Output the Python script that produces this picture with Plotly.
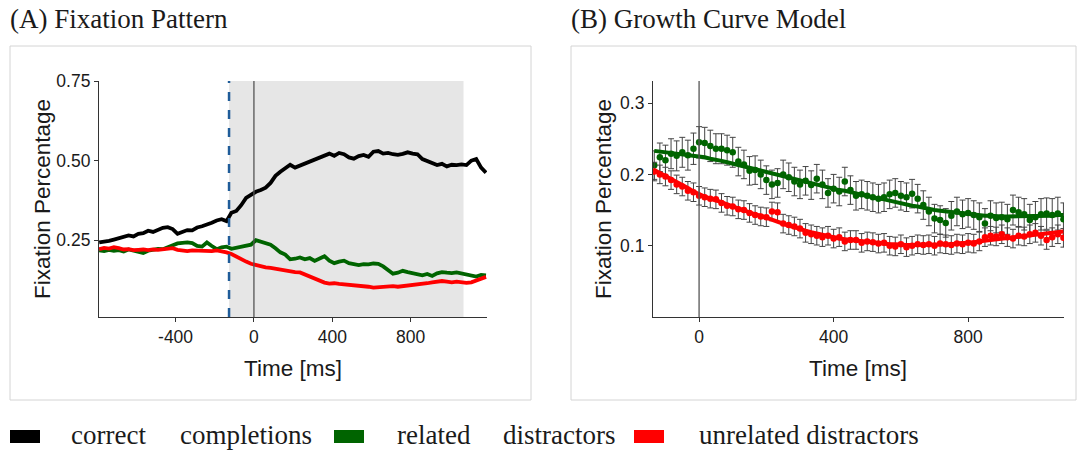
import numpy as np
import plotly.graph_objects as go

W, H = 1081, 450

# ---------------- Panel A data ----------------
time_a = np.arange(-790, 1190, 25)
correct_a = [0.243, 0.245, 0.248, 0.252, 0.256, 0.262, 0.265, 0.262, 0.270, 0.272,
             0.280, 0.276, 0.284, 0.289, 0.291, 0.285, 0.270, 0.276, 0.282, 0.281,
             0.290, 0.294, 0.298, 0.305, 0.312, 0.316, 0.310, 0.336, 0.342, 0.360,
             0.383, 0.394, 0.402, 0.408, 0.415, 0.430, 0.452, 0.465, 0.475, 0.487,
             0.478, 0.484, 0.492, 0.496, 0.503, 0.508, 0.516, 0.522, 0.515, 0.524,
             0.520, 0.510, 0.506, 0.514, 0.518, 0.512, 0.528, 0.530, 0.522, 0.524,
             0.520, 0.518, 0.521, 0.526, 0.522, 0.520, 0.505, 0.498, 0.490, 0.486,
             0.490, 0.482, 0.487, 0.486, 0.488, 0.486, 0.500, 0.505, 0.478, 0.462]
related_a = [0.218, 0.216, 0.220, 0.217, 0.219, 0.215, 0.221, 0.218, 0.212, 0.210,
             0.217, 0.221, 0.223, 0.222, 0.228, 0.234, 0.240, 0.242, 0.243, 0.241,
             0.232, 0.230, 0.243, 0.232, 0.222, 0.228, 0.230, 0.223, 0.226, 0.230,
             0.232, 0.236, 0.250, 0.246, 0.240, 0.236, 0.225, 0.212, 0.205, 0.190,
             0.192, 0.196, 0.190, 0.194, 0.185, 0.194, 0.200, 0.186, 0.178, 0.183,
             0.186, 0.178, 0.174, 0.172, 0.175, 0.174, 0.177, 0.176, 0.168, 0.155,
             0.145, 0.148, 0.154, 0.150, 0.147, 0.142, 0.140, 0.144, 0.138, 0.146,
             0.150, 0.148, 0.147, 0.149, 0.146, 0.144, 0.140, 0.136, 0.141, 0.140]
unrelated_a = [0.222, 0.226, 0.224, 0.228, 0.225, 0.221, 0.222, 0.219, 0.220, 0.221,
               0.219, 0.221, 0.220, 0.222, 0.224, 0.225, 0.220, 0.217, 0.216, 0.218,
               0.217, 0.215, 0.217, 0.216, 0.218, 0.216, 0.212, 0.207, 0.198, 0.190,
               0.183, 0.176, 0.172, 0.168, 0.165, 0.163, 0.160, 0.158, 0.156, 0.153,
               0.150, 0.149, 0.142, 0.136, 0.130, 0.124, 0.117, 0.114, 0.115, 0.113,
               0.112, 0.109, 0.108, 0.106, 0.106, 0.104, 0.101, 0.102, 0.104, 0.103,
               0.106, 0.104, 0.106, 0.107, 0.108, 0.109, 0.112, 0.115, 0.118, 0.121,
               0.122, 0.120, 0.118, 0.120, 0.117, 0.116, 0.118, 0.123, 0.128, 0.135]
window_start, window_end = -127, 1070
xticks_a = [-400, 0, 400, 800]
xticklabels_a = ["-400", "0", "400", "800"]
yticks_a = [0.25, 0.50, 0.75]

# ---------------- Panel B data ----------------
time_b = np.linspace(-133.3, 1083.3, 74)
related_obs = [0.213, 0.224, 0.220, 0.229, 0.226, 0.231, 0.227, 0.236, 0.245,
               0.244, 0.240, 0.236, 0.236, 0.234, 0.231,
               0.218, 0.214, 0.205, 0.206, 0.200, 0.192,
               0.186, 0.188, 0.200, 0.196, 0.190, 0.186,
               0.191, 0.185, 0.194, 0.186, 0.174, 0.180,
               0.176, 0.190, 0.178, 0.170, 0.172, 0.170,
               0.168, 0.166, 0.168, 0.172, 0.174, 0.170,
               0.168, 0.173, 0.166, 0.157, 0.148, 0.138,
               0.136, 0.132, 0.142, 0.148, 0.144, 0.146,
               0.143, 0.140, 0.131, 0.142, 0.139, 0.140,
               0.137, 0.150, 0.147, 0.144, 0.136, 0.140,
               0.144, 0.145, 0.143, 0.145, 0.137]
related_fit = [0.233, 0.232, 0.231, 0.231, 0.230, 0.229, 0.228, 0.227, 0.226,
               0.224, 0.222, 0.221, 0.219, 0.217, 0.215,
               0.213, 0.211, 0.209, 0.207, 0.205, 0.203,
               0.201, 0.199, 0.197, 0.195, 0.193, 0.191,
               0.189, 0.187, 0.185, 0.184, 0.182, 0.180,
               0.178, 0.177, 0.175, 0.173, 0.172, 0.170,
               0.168, 0.166, 0.165, 0.163, 0.161, 0.159,
               0.158, 0.156, 0.155, 0.153, 0.152, 0.150,
               0.149, 0.148, 0.147, 0.146, 0.145, 0.144,
               0.143, 0.143, 0.142, 0.142, 0.141, 0.141,
               0.141, 0.141, 0.141, 0.141, 0.141, 0.141,
               0.142, 0.142, 0.142, 0.143, 0.143]
related_err = [0.020, 0.020, 0.021, 0.021, 0.021, 0.021, 0.021, 0.022, 0.022,
               0.022, 0.022, 0.021, 0.021, 0.021, 0.021,
               0.020, 0.020, 0.020, 0.020, 0.020, 0.020,
               0.020, 0.020, 0.020, 0.020, 0.020, 0.020,
               0.020, 0.020, 0.020, 0.020, 0.020, 0.020,
               0.020, 0.020, 0.020, 0.020, 0.020, 0.020,
               0.020, 0.020, 0.020, 0.020, 0.020, 0.020,
               0.020, 0.020, 0.020, 0.020, 0.020, 0.020,
               0.020, 0.020, 0.020, 0.020, 0.020, 0.020,
               0.020, 0.020, 0.021, 0.021, 0.021, 0.021,
               0.021, 0.021, 0.021, 0.022, 0.022, 0.022,
               0.022, 0.022, 0.023, 0.023, 0.023]
unrelated_obs = [0.204, 0.200, 0.197, 0.192, 0.186, 0.183, 0.177, 0.175, 0.170,
                 0.168, 0.166, 0.165, 0.160, 0.156, 0.155,
                 0.151, 0.150, 0.146, 0.143, 0.141, 0.140,
                 0.148, 0.147, 0.131, 0.129, 0.127, 0.124,
                 0.118, 0.116, 0.114, 0.112, 0.114, 0.110,
                 0.112, 0.106, 0.108, 0.108, 0.104, 0.106,
                 0.105, 0.103, 0.104, 0.100, 0.099, 0.102,
                 0.098, 0.100, 0.102, 0.101, 0.102, 0.100,
                 0.103, 0.102, 0.101, 0.103, 0.102, 0.104,
                 0.103, 0.106, 0.112, 0.114, 0.113, 0.116,
                 0.112, 0.110, 0.114, 0.113, 0.116, 0.118,
                 0.114, 0.108, 0.112, 0.116, 0.111]
unrelated_fit = [0.206, 0.202, 0.198, 0.193, 0.189, 0.185, 0.181, 0.176, 0.172,
                 0.169, 0.166, 0.164, 0.161, 0.158, 0.155,
                 0.152, 0.150, 0.147, 0.144, 0.142, 0.139,
                 0.136, 0.134, 0.131, 0.128, 0.126, 0.123,
                 0.121, 0.119, 0.117, 0.115, 0.113, 0.111,
                 0.110, 0.109, 0.108, 0.107, 0.106, 0.105,
                 0.104, 0.103, 0.103, 0.102, 0.102, 0.101,
                 0.101, 0.101, 0.101, 0.101, 0.101, 0.101,
                 0.101, 0.102, 0.102, 0.103, 0.103, 0.104,
                 0.105, 0.106, 0.107, 0.108, 0.109, 0.110,
                 0.111, 0.112, 0.113, 0.113, 0.114, 0.115,
                 0.116, 0.117, 0.118, 0.119, 0.120]
unrelated_err = [0.013] * 74
xticks_b = [0, 400, 800]
yticks_b = [0.1, 0.2, 0.3]

legend_labels = ["correct", "completions", "related", "distractors", "unrelated distractors"]
colors = {"correct": "#000000", "related": "#006400", "unrelated": "#FF0000"}

# ---------------- helpers ----------------
def px(x):
    return x / W

def py(y):
    return 1 - y / H

fig = go.Figure()

# Panel A traces
for vals, c in [(correct_a, colors["correct"]), (related_a, colors["related"]),
                (unrelated_a, colors["unrelated"])]:
    fig.add_trace(go.Scatter(x=time_a, y=vals, mode="lines",
                             line=dict(color=c, width=3.8),
                             xaxis="x", yaxis="y", showlegend=False))

# Panel B traces
for obs, fit, err, c in [(related_obs, related_fit, related_err, colors["related"]),
                         (unrelated_obs, unrelated_fit, unrelated_err, colors["unrelated"])]:
    fig.add_trace(go.Scatter(x=time_b, y=obs, mode="markers",
                             marker=dict(color=c, size=6.5),
                             error_y=dict(type="data", array=err, color="#444444",
                                          thickness=1, width=3),
                             xaxis="x2", yaxis="y2", showlegend=False))
for fit, c in [(related_fit, colors["related"]), (unrelated_fit, colors["unrelated"])]:
    fig.add_trace(go.Scatter(x=time_b, y=fit, mode="lines",
                             line=dict(color=c, width=4),
                             xaxis="x2", yaxis="y2", showlegend=False))

tickfont = dict(family="Liberation Sans, Arial", size=17.5, color="#1a1a1a")
axis_common = dict(showgrid=False, zeroline=False, showline=True, linecolor="#333333",
                   linewidth=1.2, ticks="outside", ticklen=4, tickcolor="#333333",
                   tickfont=tickfont)

ya_min, ya_max = 0.009, 0.75
yb_min, yb_max = 0.0, 0.331

fig.update_layout(
    width=W, height=H, margin=dict(l=0, r=0, t=0, b=0, autoexpand=False),
    paper_bgcolor="white", plot_bgcolor="white",
    xaxis=dict(domain=[px(99), px(487)], range=[-791, 1190], anchor="y",
               tickvals=xticks_a, ticktext=xticklabels_a, **axis_common),
    yaxis=dict(domain=[py(317), py(81)], range=[ya_min, ya_max], anchor="x",
               tickvals=yticks_a, tickformat=".2f", **axis_common),
    xaxis2=dict(domain=[px(653), px(1064)], range=[-137, 1085], anchor="y2",
                tickvals=xticks_b, **axis_common),
    yaxis2=dict(domain=[py(317), py(81)], range=[yb_min, yb_max], anchor="x2",
                tickvals=yticks_b, **axis_common),
)

shapes = []
# panel boxes
shapes.append(dict(type="rect", xref="paper", yref="paper", x0=px(10), x1=px(531),
                   y0=py(400), y1=py(46), line=dict(color="#d4d4d4", width=1),
                   fillcolor="rgba(0,0,0,0)", layer="below"))
shapes.append(dict(type="rect", xref="paper", yref="paper", x0=px(571), x1=px(1076),
                   y0=py(400), y1=py(46), line=dict(color="#d4d4d4", width=1),
                   fillcolor="rgba(0,0,0,0)", layer="below"))
# shaded analysis window
shapes.append(dict(type="rect", xref="x", yref="y", x0=window_start, x1=window_end,
                   y0=ya_min, y1=ya_max, fillcolor="#e6e6e6", line=dict(width=0),
                   layer="below"))
# vertical lines
shapes.append(dict(type="line", xref="x", yref="y", x0=0, x1=0, y0=ya_min, y1=ya_max,
                   line=dict(color="#555555", width=1.3)))
shapes.append(dict(type="line", xref="x", yref="y", x0=window_start, x1=window_start,
                   y0=ya_min, y1=ya_max, line=dict(color="#1f5c99", width=2.5, dash="dash")))
shapes.append(dict(type="line", xref="x2", yref="y2", x0=0, x1=0, y0=yb_min, y1=yb_max,
                   line=dict(color="#555555", width=1.3)))
# legend keys
for x0, c in [(10, colors["correct"]), (334, colors["related"]), (634, colors["unrelated"])]:
    shapes.append(dict(type="rect", xref="paper", yref="paper", x0=px(x0), x1=px(x0 + 30),
                       y0=py(443), y1=py(430), fillcolor=c, line=dict(width=0)))

serif = dict(family="Liberation Serif, Times New Roman", size=27, color="#1a1a1a")
sans_title = dict(family="Liberation Sans, Arial", size=22.5, color="#1a1a1a")

def ann(text, x, y, font, xanchor="center", angle=0):
    return dict(text=text, x=px(x), y=py(y), xref="paper", yref="paper",
                xanchor=xanchor, yanchor="middle", textangle=angle,
                showarrow=False, font=font)

annotations = [
    ann("(A) Fixation Pattern", 8, 19, serif, "left"),
    ann("(B) Growth Curve Model", 569, 19, serif, "left"),
    ann("Fixation Percentage", 42, 199, sans_title, angle=-90),
    ann("Time [ms]", 293, 368, sans_title),
    ann("Fixation Percentage", 603, 199, sans_title, angle=-90),
    ann("Time [ms]", 858, 368, sans_title),
]
for label, x0 in zip(legend_labels, [69, 178, 395, 501, 697]):
    annotations.append(ann(label, x0, 435, serif, "left"))

fig.update_layout(shapes=shapes, annotations=annotations)
fig.write_html("out.html")
